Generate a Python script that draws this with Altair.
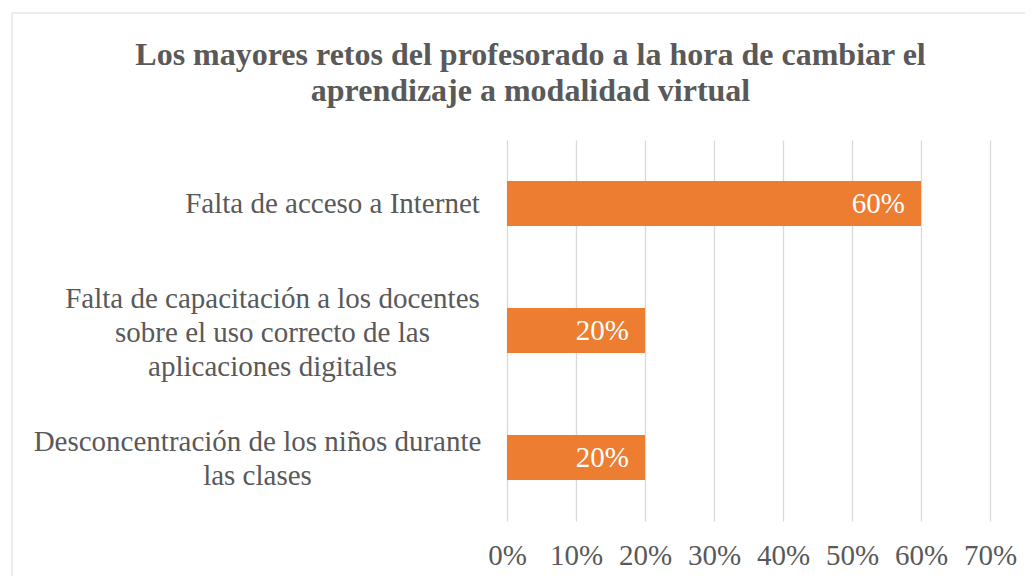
import altair as alt
import pandas as pd

categories = [
    "Falta de acceso a Internet",
    "Falta de capacitación a los docentes sobre el uso correcto de las aplicaciones digitales",
    "Desconcentración de los niños durante las clases",
]
label_lines = [
    ["Falta de acceso a Internet"],
    ["Falta de capacitación a los docentes", "sobre el uso correcto de las", "aplicaciones digitales"],
    ["Desconcentración de los niños durante", "las clases"],
]
values = [0.60, 0.20, 0.20]
x_ticks = [0, 0.1, 0.2, 0.3, 0.4, 0.5, 0.6, 0.7]
title_lines = [
    "Los mayores retos del profesorado a la hora de cambiar el",
    "aprendizaje a modalidad virtual",
]

FONT = "Liberation Serif"
GREY = "#595959"
labels = ["\n".join(l) for l in label_lines]
df = pd.DataFrame({"category": categories, "label": labels, "value": values})

base = alt.Chart(df)

y_enc = alt.Y(
    "label:N",
    sort=labels,
    scale=alt.Scale(paddingInner=0.646, paddingOuter=0.323),
    axis=alt.Axis(
        title=None,
        domain=False,
        ticks=False,
        labelExpr="split(datum.label, '\\n')",
        labelFont=FONT,
        labelFontSize=29,
        labelColor=GREY,
        labelLineHeight=34,
        labelAlign="center",
        labelBaseline="middle",
        labelLimit=0,
        labelPadding={
            "condition": [
                {"test": "indexof(datum.label, 'capacitación') >= 0", "value": 235},
                {"test": "indexof(datum.label, 'Desconcentración') >= 0", "value": 250},
            ],
            "value": 175,
        },
        labelOffset={
            "condition": [
                {"test": "indexof(datum.label, 'capacitación') >= 0", "value": -32},
                {"test": "indexof(datum.label, 'Desconcentración') >= 0", "value": -16},
            ],
            "value": 0,
        },
    ),
)

bars = base.mark_bar(color="#ED7D31").encode(
    x=alt.X(
        "value:Q",
        scale=alt.Scale(domain=[0, 0.7], nice=False),
        axis=alt.Axis(
            title=None,
            values=x_ticks,
            format=".0%",
            grid=True,
            gridColor="#d9d9d9",
            gridWidth=1.3,
            domain=False,
            ticks=False,
            labelFont=FONT,
            labelFontSize=29,
            labelColor=GREY,
            labelPadding=20,
            labelOverlap=False,
            labelAlign="center",
            labelBaseline="top",
            labelFlush=False,
        ),
    ),
    y=y_enc,
)

text = base.mark_text(
    align="right", baseline="middle", dx=-16, color="white", font=FONT, fontSize=29
).encode(
    x=alt.X("value:Q"),
    y=alt.Y("label:N", sort=labels),
    text=alt.Text("value:Q", format=".0%"),
)

frame = alt.Chart(pd.DataFrame({"a": [0]})).mark_rect(
    fillOpacity=0, stroke="#d9d9d9", strokeWidth=1
).encode(
    x=alt.value(-495), x2=alt.value(560), y=alt.value(-127), y2=alt.value(480)
)

chart = (
    alt.layer(frame, bars, text)
    .properties(
        width=483,
        height=381,
        autosize="none",
        padding={"left": 499, "top": 132, "right": 35, "bottom": 55},
        title=alt.TitleParams(
            text=title_lines,
            font=FONT,
            fontSize=32,
            fontWeight="bold",
            color=GREY,
            anchor="middle",
            frame="group",
            dx=-218,
            offset=-127,
            baseline="bottom",
            lineHeight=36,
        ),
    )
    .configure_view(stroke="transparent")
)

chart.save("out.html", embed_options={"renderer": "svg", "actions": False})
